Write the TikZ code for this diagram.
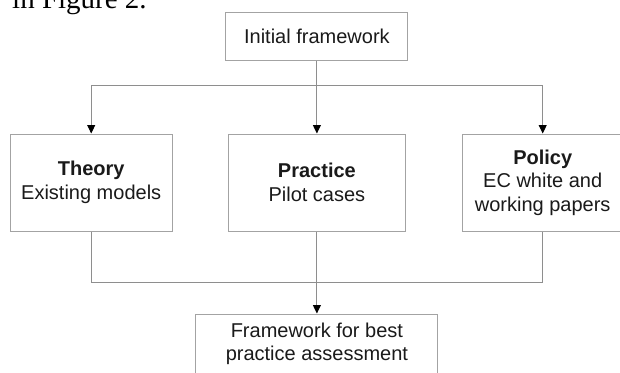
\documentclass[tikz,border=0pt]{standalone}
\usepackage{fontspec}
\setmainfont{Liberation Sans}
\newfontfamily\serifface{Liberation Serif}
\usetikzlibrary{arrows.meta}
\definecolor{boxgray}{HTML}{A3A3A3}
\definecolor{linegray}{HTML}{8E8E8E}
\definecolor{txt}{HTML}{1A1A1A}
\begin{document}
\begin{tikzpicture}[x=1pt,y=-1pt,
  box/.style={draw=boxgray,line width=1pt,fill=white,inner sep=0pt,align=center,text=txt,font=\fontsize{20}{23.5}\selectfont},
  conn/.style={draw=linegray,line width=1pt},
  arr/.style={conn,-{Triangle[length=8.5pt,width=8pt,color=black]}}]
\useasboundingbox (0,0) rectangle (620,372);
\clip (0,0) rectangle (620,372);
\fill[white] (0,0) rectangle (620,372);
\node[anchor=base west,font=\serifface\fontsize{29}{29}\selectfont,text=black,inner sep=0pt] (intro) at (12,8.7) {in Figure 2.};
\node[box,minimum width=182pt,minimum height=48pt] (init) at (316.9,36.3) {Initial framework};
\node[box,minimum width=162pt,minimum height=97pt] (theory) at (91.2,182.5) {\textbf{Theory}\\Existing models};
\node[box,minimum width=177pt,minimum height=97pt] (practice) at (316.9,182.5) {\textbf{Practice}\\Pilot cases};
\node[box,minimum width=161.4pt,minimum height=97pt] (policy) at (542.7,182.5) {\textbf{Policy}\\EC white and\\working papers};
\node[box,minimum width=242pt,minimum height=60pt] (final) at (316.9,344) {Framework for best\\practice assessment};
\coordinate (split) at (316.9,85.3);
\coordinate (join) at (316.9,282.3);
\draw[arr] (init.south) -- (practice.north);
\draw[arr] (split) -| (theory.north);
\draw[arr] (split) -| (policy.north);
\draw[conn] (theory.south) |- (join) -| (policy.south);
\draw[arr] (practice.south) -- (final.north);
\end{tikzpicture}
\end{document}
